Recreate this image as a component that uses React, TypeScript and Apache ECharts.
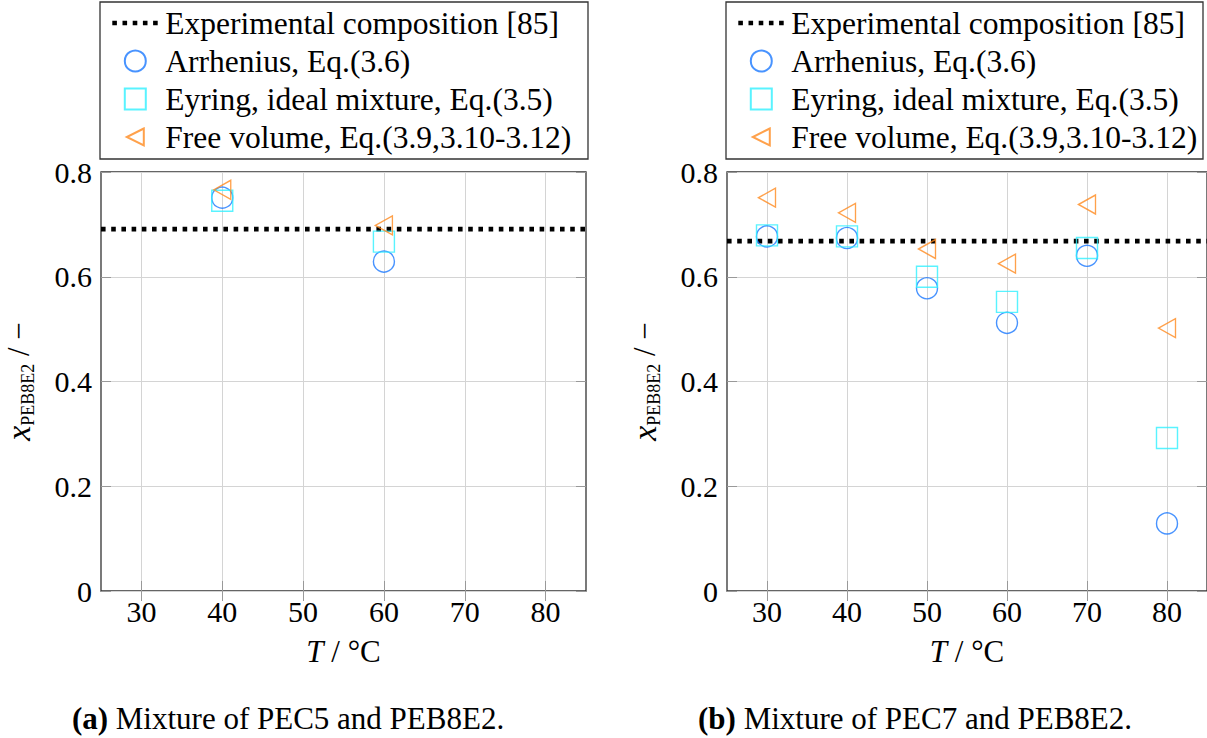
import React, { useEffect, useRef } from "react";
import * as echarts from "echarts";

// ---------- data ----------
const seriesNames = [
  "Experimental composition [85]",
  "Arrhenius, Eq.(3.6)",
  "Eyring, ideal mixture, Eq.(3.5)",
  "Free volume, Eq.(3.9,3.10-3.12)",
];

const xTickValues = [30, 40, 50, 60, 70, 80];
const xRange = [25, 85];
const yRange = [0, 0.8];
const yStep = 0.2;

// Panel (a): PEC5 + PEB8E2
const tempsA = [40, 60];
const arrheniusA = [0.751, 0.629];
const eyringA = [0.745, 0.667];
const freeVolumeA = [0.766, 0.698];
const experimentalA = 0.691;

// Panel (b): PEC7 + PEB8E2
const tempsB = [30, 40, 50, 60, 70, 80];
const arrheniusB = [0.677, 0.674, 0.578, 0.512, 0.64, 0.129];
const eyringB = [0.679, 0.677, 0.6, 0.552, 0.655, 0.292];
const freeVolumeB = [0.751, 0.722, 0.653, 0.625, 0.738, 0.502];
const experimentalB = 0.668;

const captionA = ["(a)", " Mixture of PEC5 and PEB8E2."];
const captionB = ["(b)", " Mixture of PEC7 and PEB8E2."];

// ---------- style ----------
const FONT = "Liberation Serif";
const BLUE = "#1a78ff";
const CYAN = "#30f0ff";
const ORANGE = "#ff8a1e";
const FRAME = "#333333";
const DOT_LINE = { color: "#000", width: 4.6, type: [4.6, 5.6] as number[], cap: "butt" };

const SQUARE_ICON = "path://M0,0L1,0L1,1L0,1Z";
const TRIANGLE_ICON = "path://M0,0M21,21M19,2L2,10.5L19,19Z";

const pairs = (xs: number[], ys: number[]) => xs.map((x, i) => [x, ys[i]]);

function buildOption() {
  const grids = [
    { left: 100, top: 172, width: 486, height: 419 },
    { left: 727, top: 172, width: 486, height: 419 },
  ].map((g) => ({
    ...g,
    show: true,
    borderColor: FRAME,
    borderWidth: 1.3,
    backgroundColor: "transparent",
    containLabel: false,
  }));

  const tickStyle = { show: true, inside: true, length: 10, lineStyle: { color: "#999", width: 1 } };

  const xAxis: any[] = [];
  const yAxis: any[] = [];
  for (let g = 0; g < 2; g++) {
    xAxis.push({
      type: "value",
      gridIndex: g,
      position: "bottom",
      min: xRange[0],
      max: xRange[1],
      axisLine: { show: false },
      axisTick: { ...tickStyle, customValues: xTickValues },
      axisLabel: {
        customValues: xTickValues,
        margin: 5,
        fontFamily: FONT,
        fontSize: 30,
        color: "#000",
      },
      splitLine: { show: true, lineStyle: { color: "#d4d4d4", width: 1 } },
      name: "{i|T} / °C",
      nameLocation: "middle",
      nameGap: 45,
      nameTextStyle: {
        fontFamily: FONT,
        fontSize: 31,
        color: "#000",
        rich: { i: { fontFamily: FONT, fontSize: 31, fontStyle: "italic", color: "#000" } },
      },
    });
    yAxis.push({
      type: "value",
      gridIndex: g,
      position: "left",
      min: yRange[0],
      max: yRange[1],
      interval: yStep,
      axisLine: { show: false },
      axisTick: tickStyle,
      axisLabel: { margin: 9, fontFamily: FONT, fontSize: 30, color: "#000" },
      splitLine: { show: true, lineStyle: { color: "#d4d4d4", width: 1 } },
      name: "{x|x}{s|PEB8E2}{t| / −}",
      nameLocation: "middle",
      nameGap: 64,
      nameTextStyle: {
        color: "#000",
        fontFamily: FONT,
        rich: {
          x: { fontFamily: FONT, fontSize: 34, fontStyle: "italic", lineHeight: 38, color: "#000" },
          s: { fontFamily: FONT, fontSize: 18, lineHeight: 18, verticalAlign: "bottom", color: "#000" },
          t: { fontFamily: FONT, fontSize: 31, lineHeight: 38, color: "#000" },
        },
      },
    });
  }
  // mirror axes (ticks only) on top / right
  for (let g = 0; g < 2; g++) {
    xAxis.push({
      type: "value",
      gridIndex: g,
      position: "top",
      min: xRange[0],
      max: xRange[1],
      axisLine: { show: false },
      axisTick: { ...tickStyle, customValues: xTickValues },
      axisLabel: { show: false, customValues: xTickValues },
      splitLine: { show: false },
    });
    yAxis.push({
      type: "value",
      gridIndex: g,
      position: "right",
      min: yRange[0],
      max: yRange[1],
      interval: yStep,
      axisLine: { show: false },
      axisTick: tickStyle,
      axisLabel: { show: false },
      splitLine: { show: false },
    });
  }

  const markerStyle = (c: string) => ({ color: "rgba(0,0,0,0)", borderColor: c, borderWidth: 1.4 });

  const panelSeries = (
    g: number,
    temps: number[],
    arr: number[],
    eyr: number[],
    fv: number[],
    exp: number
  ) => [
    {
      name: seriesNames[0],
      type: "line",
      xAxisIndex: g,
      yAxisIndex: g,
      data: [
        [xRange[0], exp],
        [xRange[1], exp],
      ],
      symbol: "none",
      itemStyle: { color: "rgba(0,0,0,0)", borderWidth: 0 },
      lineStyle: DOT_LINE,
      z: 3,
    },
    {
      name: seriesNames[1],
      type: "scatter",
      xAxisIndex: g,
      yAxisIndex: g,
      data: pairs(temps, arr),
      symbol: "circle",
      symbolSize: 21,
      itemStyle: markerStyle(BLUE),
      z: 4,
    },
    {
      name: seriesNames[2],
      type: "scatter",
      xAxisIndex: g,
      yAxisIndex: g,
      data: pairs(temps, eyr),
      symbol: "rect",
      symbolSize: 21,
      itemStyle: markerStyle(CYAN),
      z: 4,
    },
    {
      name: seriesNames[3],
      type: "scatter",
      xAxisIndex: g,
      yAxisIndex: g,
      data: pairs(temps, fv),
      symbol: "triangle",
      symbolSize: [19, 17],
      symbolRotate: 90,
      itemStyle: markerStyle(ORANGE),
      z: 4,
    },
  ];

  const legend = (left: number) => ({
    orient: "vertical",
    left,
    top: 7,
    padding: 0,
    itemWidth: 46,
    itemHeight: 21,
    itemGap: 6,
    selectedMode: false,
    symbolKeepAspect: true,
    lineStyle: { width: 4.6, type: [4.6, 5.6], color: "#000", cap: "butt" },
    data: [
      { name: seriesNames[0], lineStyle: DOT_LINE },
      { name: seriesNames[1] },
      { name: seriesNames[2], icon: SQUARE_ICON },
      { name: seriesNames[3], icon: TRIANGLE_ICON, symbolRotate: 0 },
    ],
    textStyle: {
      fontFamily: FONT,
      fontSize: 31.5,
      lineHeight: 30,
      color: "#000",
      padding: [0, 0, 0, 2],
    },
  });

  const caption = (x: number, parts: string[]) => ({
    type: "text",
    x,
    y: 718,
    style: {
      text: `{b|${parts[0]}}${parts[1]}`,
      fill: "#000",
      fontFamily: FONT,
      fontSize: 31,
      align: "center",
      verticalAlign: "middle",
      rich: {
        b: { fontFamily: FONT, fontSize: 31, fontWeight: "bold", fill: "#000", color: "#000" },
      },
    },
  });

  return {
    animation: false,
    backgroundColor: "#ffffff",
    grid: grids,
    xAxis,
    yAxis,
    legend: [legend(110), legend(736)],
    series: [
      ...panelSeries(0, tempsA, arrheniusA, eyringA, freeVolumeA, experimentalA),
      ...panelSeries(1, tempsB, arrheniusB, eyringB, freeVolumeB, experimentalB),
    ],
    graphic: [
      {
        type: "rect",
        shape: { x: 100, y: 2, width: 488, height: 157 },
        style: { fill: "none", stroke: FRAME, lineWidth: 1.3 },
        z: 10,
      },
      {
        type: "rect",
        shape: { x: 726, y: 2, width: 477, height: 157 },
        style: { fill: "none", stroke: FRAME, lineWidth: 1.3 },
        z: 10,
      },
      caption(288, captionA),
      caption(915, captionB),
    ],
  };
}

export default function App() {
  const ref = useRef<HTMLDivElement>(null);
  useEffect(() => {
    if (!ref.current) return;
    const chart = echarts.init(ref.current, undefined, { renderer: "svg" });
    chart.setOption(buildOption() as any);
    return () => chart.dispose();
  }, []);
  return (
    <div
      ref={ref}
      style={{ position: "fixed", left: 0, top: 0, width: 1207, height: 738, background: "#fff" }}
    />
  );
}
